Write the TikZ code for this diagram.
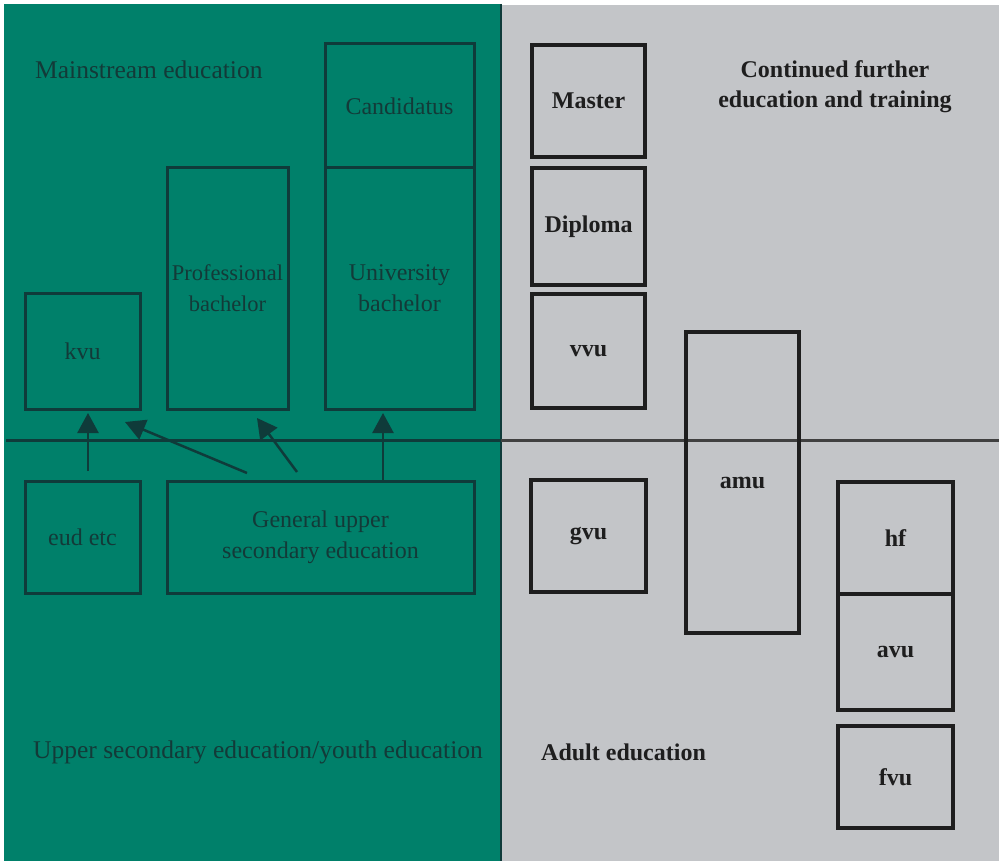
\documentclass[tikz,border=0pt]{standalone}
\usepackage{fontspec}
\setmainfont{Liberation Serif}
\usetikzlibrary{arrows.meta}
\definecolor{panelgreen}{HTML}{00806A}
\definecolor{panelgrey}{HTML}{C3C5C8}
\definecolor{tealdark}{HTML}{0F3B3A}
\definecolor{tealtext}{HTML}{133A38}
\definecolor{ink}{HTML}{1E1E1E}
\tikzset{
  lbox/.style={draw=tealdark, line width=3pt, inner sep=0pt, font=\fontsize{24}{31}\selectfont, text=tealtext, align=center},
  rbox/.style={draw=ink, line width=3.2pt, inner sep=0pt, font=\fontsize{24}{31}\selectfont\bfseries, text=ink, align=center},
  ltext/.style={inner sep=0pt, font=\fontsize{25.5}{31}\selectfont, text=tealtext, align=left},
  rtext/.style={inner sep=0pt, font=\fontsize{24}{30}\selectfont\bfseries, text=ink, align=center},
  arr/.style={draw=tealdark, line width=2.5pt, -{Triangle[length=20pt,width=21pt]}}
}
\begin{document}
\begin{tikzpicture}[x=1pt,y=-1pt]
\useasboundingbox (0,0) rectangle (999,861);
\fill[white] (0,0) rectangle (999,861);
\fill[panelgreen] (4,4) rectangle (501,861);
\fill[panelgrey] (501,5) rectangle (999,861);
\draw[tealdark, line width=2pt] (501,4) -- (501,861);
% horizontal divider
\draw[tealdark, line width=3pt] (6,440) -- (501,440);
\draw[ink!85, line width=3pt] (501,440) -- (999,440);

% left boxes
\node[lbox, minimum width=115pt, minimum height=116pt] (kvu) at (82.5,351) {kvu};
\node[lbox, minimum width=121pt, minimum height=241pt, font=\fontsize{22.5}{31}\selectfont] (prof) at (227.5,288.5) {Professional\\bachelor};
\node[lbox, minimum width=149pt, minimum height=241pt] (univ) at (399.5,288.5) {University\\bachelor};
\node[lbox, minimum width=149pt, minimum height=124pt] (cand) at (399.5,106) {Candidatus};
\node[lbox, minimum width=115pt, minimum height=112pt] (eud) at (82.5,537) {eud etc};
\node[lbox, minimum width=307pt, minimum height=112pt] (gen) at (320.5,537) {General upper\\secondary education};

\node[ltext, anchor=west] (mainstream) at (35,70) {Mainstream education};
\node[ltext, anchor=west] (upper) at (33,752) {Upper secondary education/youth education};

% arrows
\coordinate (a1s) at (88,471);
\coordinate (a1e) at (88,413);
\coordinate (a2s) at (247,473);
\coordinate (a2e) at (125,422);
\coordinate (a3s) at (297,472);
\coordinate (a3e) at (257,418);
\coordinate (a4s) at (383,481);
\coordinate (a4e) at (383,413);
\draw[arr] (a1s) -- (a1e);
\draw[arr] (a2s) -- (a2e);
\draw[arr] (a3s) -- (a3e);
\draw[arr] (a4s) -- (a4e);

% right boxes
\node[rbox, minimum width=113pt, minimum height=112pt] (master) at (588.5,101) {Master};
\node[rbox, minimum width=113pt, minimum height=117pt] (diploma) at (588.5,226.5) {Diploma};
\node[rbox, minimum width=113pt, minimum height=114pt] (vvu) at (588.5,351) {vvu};
\node[rbox, minimum width=113pt, minimum height=301pt] (amu) at (742.5,482.5) {};
\node[rtext] (amulabel) at (742.5,483) {amu};
\node[rbox, minimum width=115pt, minimum height=112pt] (gvu) at (588.5,536) {gvu};
\node[rbox, minimum width=115pt, minimum height=112pt] (hf) at (895.5,538) {hf};
\node[rbox, minimum width=115pt, minimum height=116pt] (avu) at (895.5,652) {avu};
\node[rbox, minimum width=115pt, minimum height=102pt] (fvu) at (895.5,777) {fvu};

\node[rtext] (continued) at (835,87) {Continued further\\education and training};
\node[rtext, anchor=west] (adult) at (541,752) {Adult education};
\end{tikzpicture}
\end{document}
